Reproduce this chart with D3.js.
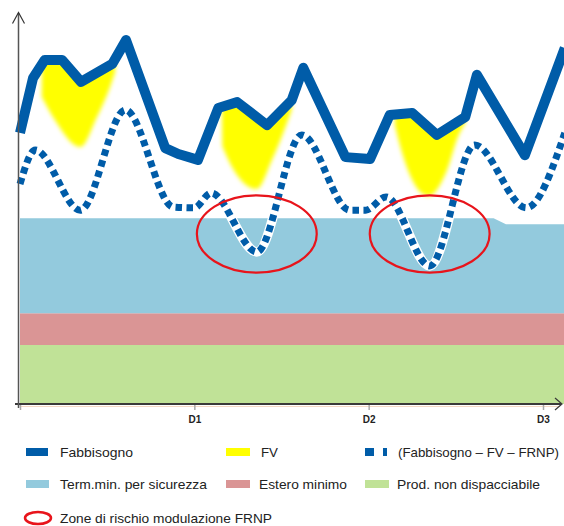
<!DOCTYPE html>
<html>
<head>
<meta charset="utf-8">
<script src="https://cdn.jsdelivr.net/npm/d3@7/dist/d3.min.js"></script>
<style>
  html, body { margin: 0; padding: 0; background: #fff; }
  svg { display: block; }
  text { font-family: "Liberation Sans", Arial, sans-serif; }
</style>
</head>
<body>
<svg id="chart" width="564" height="526"></svg>
<script>
// ---- data (hours from start of D0, arbitrary load units) ----
const dayTicks = [0, 24, 48, 72];
const dayLabels = ["", "D1", "D2", "D3"];

// Fabbisogno (demand)
const fabHours   = [0, 1.8, 3.4, 5.8, 8.4, 12.7, 14.6, 20.0, 21.8, 24.5, 27.3, 29.9, 34.0, 37.4, 39.0, 44.8, 48.2, 50.9, 54.0, 57.4, 61.3, 62.9, 69.5, 75.0];
const fabbisogno = [69.5, 83.6, 88.2, 88.2, 82.6, 87.2, 93.3, 65.6, 64.1, 62.6, 75.9, 77.4, 71.5, 77.9, 86.2, 63.3, 62.8, 74.1, 74.6, 69.0, 73.6, 84.4, 63.8, 91.3];

// Fabbisogno - FV - FRNP (residual load)
const netHours = [0, 2.1, 8.3, 14.5, 21.1, 24.0, 26.3, 32.6, 38.8, 45.4, 47.6, 50.4, 56.4, 62.6, 69.7, 75.0];
const netLoad  = [56.4, 65.1, 49.7, 75.4, 50.5, 50.3, 54.1, 39.0, 69.0, 49.7, 49.7, 53.1, 35.4, 66.4, 50.3, 69.5];

// FV: lower edge (Fabbisogno - FV) of each daytime solar block, [hour, value]
const fvDay1 = [[3.0, 78.7], [4.8, 72.8], [8.3, 65.9], [10.6, 73.6], [12.4, 81.3], [13.1, 85.1]];
const fvDay2 = [[27.8, 73.3], [27.9, 65.9], [32.6, 55.1], [34.7, 62.6], [36.8, 72.3], [37.4, 75.4]];
const fvDay3 = [[51.6, 71.5], [52.6, 64.4], [56.2, 53.3], [58.8, 60.0], [60.3, 68.5], [61.3, 72.1]];

// Stacked must-run bands
const bandHours = [0, 65.2, 66.9, 75];
const prodNonDispacciabile = [15.1, 15.1, 15.1, 15.1];
const esteroMinimo = [8.2, 8.2, 8.2, 8.2];
const termMinSicurezza = [24.3, 24.3, 22.8, 22.8];

// Risk zones for FRNP curtailment (centre hour, centre value)
const riskZones = [{ h: 32.6, v: 43.6 }, { h: 56.4, v: 43.6 }];

// ---- colours ----
const C = {
  fab: "#005ca8",
  fv: "#ffff00",
  term: "#93cadd",
  estero: "#da9595",
  prod: "#c0e297",
  risk: "#e8141b",
  axis: "#3a3a3a"
};

const svg = d3.select("#chart");
const x = d3.scaleLinear().domain([0, 72]).range([20, 543]);
const y = d3.scaleLinear().domain([0, 100]).range([404, 14]);

svg.append("rect").attr("width", 564).attr("height", 526).attr("fill", "#fff");

const defs = svg.append("defs");
defs.append("filter").attr("id", "soft")
  .attr("x", "-20%").attr("y", "-20%").attr("width", "140%").attr("height", "140%")
  .append("feGaussianBlur").attr("stdDeviation", 2);

// ---- stacked bands ----
const bandRows = bandHours.map((h, i) => ({
  h, prod: prodNonDispacciabile[i], estero: esteroMinimo[i], term: termMinSicurezza[i]
}));
const stack = d3.stack().keys(["prod", "estero", "term"]);
const series = stack(bandRows);
const bandArea = d3.area()
  .x(d => x(d.data.h))
  .y0(d => y(d[0]))
  .y1(d => y(d[1]));
svg.append("g").selectAll("path").data(series).join("path")
  .attr("fill", d => C[d.key])
  .attr("d", bandArea);

// ---- FV blocks: between Fabbisogno and its lower edge ----
const fabAt = d3.scaleLinear().domain(fabHours).range(fabbisogno);
const fvGroup = svg.append("g").attr("filter", "url(#soft)");
[fvDay1, fvDay2, fvDay3].forEach(day => {
  const h0 = day[0][0], h1 = day[day.length - 1][0];
  const topHs = Array.from(new Set([h0].concat(fabHours.filter(h => h > h0 && h < h1), [h1])));
  const top = topHs.map(h => [x(h), y(fabAt(h))]);
  const bottom = day.map(d => [x(d[0]), y(d[1])]);
  const topPath = d3.line()(top);
  // lower edge drawn smooth from right to left, closing the block
  const lowPath = d3.line().curve(d3.curveMonotoneX)(bottom);
  const rev = d3.line().curve(d3.curveMonotoneX)(bottom.slice().reverse());
  fvGroup.append("path").attr("fill", C.fv)
    .attr("d", topPath + "L" + rev.slice(1) + "Z");
});

// ---- residual load (dotted) ----
const netPts = netHours.map((h, i) => ({ h, v: netLoad[i] }));
const netLine = d3.line().x(d => x(d.h)).y(d => y(d.v)).curve(d3.curveMonotoneX);
svg.append("path").attr("d", netLine(netPts))
  .attr("fill", "none").attr("stroke", "#fff").attr("stroke-width", 9.5);
svg.append("path").attr("d", netLine(netPts))
  .attr("fill", "none").attr("stroke", C.fab).attr("stroke-width", 7)
  .attr("stroke-dasharray", "6.5 4.5");

// ---- Fabbisogno ----
const fabPts = fabHours.map((h, i) => ({ h, v: fabbisogno[i] }));
const fabLine = d3.line().x(d => x(d.h)).y(d => y(d.v));
svg.append("path").attr("d", fabLine(fabPts))
  .attr("fill", "none").attr("stroke", C.fab).attr("stroke-width", 10)
  .attr("stroke-linejoin", "round");

// ---- risk ellipses ----
svg.append("g").selectAll("ellipse").data(riskZones).join("ellipse")
  .attr("cx", d => x(d.h)).attr("cy", d => y(d.v))
  .attr("rx", x(8.25) - x(0)).attr("ry", y(0) - y(9.9))
  .attr("fill", "none").attr("stroke", C.risk).attr("stroke-width", 2.2);

// ---- axes ----
svg.append("line").attr("x1", 20).attr("x2", 560).attr("y1", 406.5).attr("y2", 406.5)
  .attr("stroke", "#f4d8c4").attr("stroke-width", 1);

const xAxis = d3.axisBottom(x).tickValues(dayTicks)
  .tickFormat((d, i) => dayLabels[i]).tickSizeInner(6).tickSizeOuter(0).tickPadding(6);
const gx = svg.append("g").attr("transform", "translate(0,404)").call(xAxis);
gx.select(".domain").remove();
gx.selectAll(".tick line").attr("stroke", "#aaa").attr("stroke-width", 1.5);
gx.selectAll(".tick text").attr("font-size", 10).attr("font-weight", "bold")
  .attr("fill", "#222").attr("font-family", "'Liberation Sans', Arial, sans-serif");

svg.append("line").attr("x1", 15).attr("x2", 561).attr("y1", 404).attr("y2", 404)
  .attr("stroke", C.axis).attr("stroke-width", 2);
svg.append("polyline").attr("points", "555,398 562,404 555,410")
  .attr("fill", "none").attr("stroke", C.axis).attr("stroke-width", 1.2);

svg.append("line").attr("x1", 18.5).attr("x2", 18.5).attr("y1", 408).attr("y2", 13)
  .attr("stroke", "#555").attr("stroke-width", 1.5);
svg.append("polyline").attr("points", "12.5,23.5 18.5,12.5 24.5,23.5")
  .attr("fill", "none").attr("stroke", "#333").attr("stroke-width", 1.2);

// ---- legend ----
const lg = svg.append("g").attr("font-size", 13.5).attr("fill", "#222");
const items = [
  { x: 26, yc: 452, w: 22, color: C.fab, label: "Fabbisogno", tx: 60, tl: 73 },
  { x: 226, yc: 452, w: 24, color: C.fv, label: "FV", tx: 261, tl: 17 },
  { x: 365, yc: 452, w: 0, color: C.fab, label: "(Fabbisogno \u2013 FV \u2013 FRNP)", tx: 398, tl: 161, dotted: true },
  { x: 26, yc: 484, w: 23, color: C.term, label: "Term.min. per sicurezza", tx: 60, tl: 147 },
  { x: 226, yc: 484, w: 24, color: C.estero, label: "Estero minimo", tx: 259, tl: 88 },
  { x: 365, yc: 484, w: 24, color: C.prod, label: "Prod. non dispacciabile", tx: 397, tl: 143 }
];
items.forEach(it => {
  if (it.dotted) {
    lg.append("rect").attr("x", it.x).attr("y", it.yc - 4).attr("width", 9).attr("height", 8).attr("fill", it.color);
    lg.append("rect").attr("x", it.x + 18).attr("y", it.yc - 4).attr("width", 4).attr("height", 8).attr("fill", it.color);
  } else {
    lg.append("rect").attr("x", it.x).attr("y", it.yc - 4).attr("width", it.w).attr("height", 8).attr("fill", it.color);
  }
  lg.append("text").attr("x", it.tx).attr("y", it.yc).attr("dy", "0.35em")
    .attr("textLength", it.tl).attr("lengthAdjust", "spacingAndGlyphs").text(it.label);
});
lg.append("ellipse").attr("cx", 38).attr("cy", 518).attr("rx", 13).attr("ry", 6)
  .attr("fill", "none").attr("stroke", C.risk).attr("stroke-width", 2.5);
lg.append("text").attr("x", 60).attr("y", 518).attr("dy", "0.35em")
  .attr("textLength", 212).attr("lengthAdjust", "spacingAndGlyphs")
  .text("Zone di rischio modulazione FRNP");
</script>
</body>
</html>
